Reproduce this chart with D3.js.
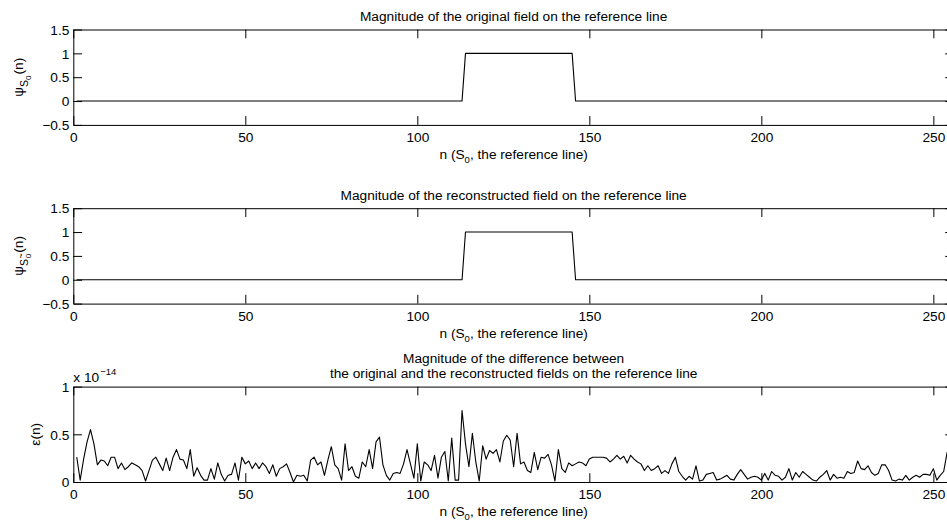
<!DOCTYPE html>
<html>
<head>
<meta charset="utf-8">
<script src="https://cdn.jsdelivr.net/npm/d3@7"></script>
<style>
  body { margin: 0; background: #fff; }
  text { font-family: "Liberation Sans", Arial, Helvetica, sans-serif; fill: #000; }
</style>
</head>
<body>
<svg id="chart" width="947" height="524"></svg>
<script>
// tick values
const xTicks = [0, 50, 100, 150, 200, 250];
const fieldTicks = [-0.5, 0, 0.5, 1, 1.5];
const errorTicks = [0, 0.5, 1];

// sample index n = 1..256
const sampleIndex = d3.range(1, 257);

// |psi_S0(n)| -- original field
const originalField = [
  0,0,0,0,0,0,0,0,0,0,0,0,0,0,0,0,0,0,0,0,0,0,0,0,0,0,0,0,0,0,0,0,
  0,0,0,0,0,0,0,0,0,0,0,0,0,0,0,0,0,0,0,0,0,0,0,0,0,0,0,0,0,0,0,0,
  0,0,0,0,0,0,0,0,0,0,0,0,0,0,0,0,0,0,0,0,0,0,0,0,0,0,0,0,0,0,0,0,
  0,0,0,0,0,0,0,0,0,0,0,0,0,0,0,0,0,1,1,1,1,1,1,1,1,1,1,1,1,1,1,1,
  1,1,1,1,1,1,1,1,1,1,1,1,1,1,1,1,1,0,0,0,0,0,0,0,0,0,0,0,0,0,0,0,
  0,0,0,0,0,0,0,0,0,0,0,0,0,0,0,0,0,0,0,0,0,0,0,0,0,0,0,0,0,0,0,0,
  0,0,0,0,0,0,0,0,0,0,0,0,0,0,0,0,0,0,0,0,0,0,0,0,0,0,0,0,0,0,0,0,
  0,0,0,0,0,0,0,0,0,0,0,0,0,0,0,0,0,0,0,0,0,0,0,0,0,0,0,0,0,0,0,0
];

// |psi~_S0(n)| -- reconstructed field
const reconstructedField = [
  0,0,0,0,0,0,0,0,0,0,0,0,0,0,0,0,0,0,0,0,0,0,0,0,0,0,0,0,0,0,0,0,
  0,0,0,0,0,0,0,0,0,0,0,0,0,0,0,0,0,0,0,0,0,0,0,0,0,0,0,0,0,0,0,0,
  0,0,0,0,0,0,0,0,0,0,0,0,0,0,0,0,0,0,0,0,0,0,0,0,0,0,0,0,0,0,0,0,
  0,0,0,0,0,0,0,0,0,0,0,0,0,0,0,0,0,1,1,1,1,1,1,1,1,1,1,1,1,1,1,1,
  1,1,1,1,1,1,1,1,1,1,1,1,1,1,1,1,1,0,0,0,0,0,0,0,0,0,0,0,0,0,0,0,
  0,0,0,0,0,0,0,0,0,0,0,0,0,0,0,0,0,0,0,0,0,0,0,0,0,0,0,0,0,0,0,0,
  0,0,0,0,0,0,0,0,0,0,0,0,0,0,0,0,0,0,0,0,0,0,0,0,0,0,0,0,0,0,0,0,
  0,0,0,0,0,0,0,0,0,0,0,0,0,0,0,0,0,0,0,0,0,0,0,0,0,0,0,0,0,0,0,0
];

// epsilon(n), in units of 1e-14
const errorValues = [
  0.26,0.02,0.24,0.42,0.55,0.40,0.18,0.23,0.22,0.17,0.26,0.26,0.14,0.20,0.13,0.16,
  0.20,0.18,0.16,0.12,0.01,0.12,0.23,0.26,0.19,0.12,0.25,0.12,0.26,0.34,0.24,0.23,
  0.14,0.34,0.06,0.15,0.07,0.02,0.02,0.14,0.03,0.20,0.08,0.01,0.07,0.08,0.20,0.02,
  0.26,0.19,0.22,0.14,0.20,0.14,0.20,0.16,0.09,0.18,0.06,0.14,0.16,0.19,0.10,0.00,
  0.07,0.06,0.07,0.01,0.23,0.26,0.18,0.21,0.07,0.23,0.37,0.18,0.14,0.02,0.40,0.12,
  0.16,0.06,0.04,0.21,0.16,0.34,0.14,0.42,0.47,0.18,0.07,0.02,0.09,0.10,0.09,0.19,
  0.34,0.19,0.04,0.40,0.01,0.21,0.18,0.12,0.28,0.04,0.26,0.32,0.01,0.46,0.02,0.02,
  0.75,0.40,0.16,0.51,0.21,0.01,0.38,0.24,0.33,0.30,0.34,0.21,0.43,0.49,0.44,0.16,
  0.51,0.19,0.21,0.12,0.10,0.31,0.13,0.26,0.25,0.29,0.18,0.01,0.34,0.14,0.10,0.20,
  0.17,0.19,0.21,0.20,0.17,0.24,0.26,0.26,0.26,0.26,0.25,0.21,0.24,0.28,0.24,0.27,
  0.20,0.28,0.24,0.21,0.19,0.12,0.17,0.12,0.14,0.17,0.09,0.12,0.09,0.19,0.26,0.11,
  0.06,0.02,0.06,0.03,0.17,0.01,0.02,0.08,0.09,0.10,0.02,0.03,0.05,0.07,0.03,0.02,
  0.08,0.13,0.08,0.03,0.05,0.06,0.05,0.02,0.09,0.02,0.11,0.07,0.06,0.02,0.05,0.14,
  0.02,0.10,0.05,0.11,0.08,0.05,0.02,0.01,0.05,0.08,0.12,0.02,0.08,0.04,0.05,0.04,
  0.11,0.09,0.10,0.22,0.14,0.13,0.17,0.10,0.07,0.09,0.18,0.18,0.12,0.02,0.01,0.03,
  0.02,0.07,0.02,0.05,0.07,0.05,0.08,0.08,0.07,0.14,0.02,0.07,0.11,0.31,0.36,0.30
];

const fontSize = 13.7;
const tickLen = 8.8;
const plotLeft = 73.3;
const plotRight = 954;   // the figure is cut off on the right, like the source
const panelHeight = 95.4;

const svg = d3.select("#chart");

const x = d3.scaleLinear().domain([0, 256]).range([plotLeft, plotRight]);

const fmt = d => d < 0 ? "\u2212" + Math.abs(d) : String(d);

function drawPanel(opts) {
  const top = opts.top;
  const bottom = top + panelHeight;
  const y = d3.scaleLinear().domain(opts.yDomain).range([bottom, top]);

  const g = svg.append("g");

  // data line
  const line = d3.line()
    .x((d, i) => x(sampleIndex[i]))
    .y(d => y(d));
  g.append("path")
    .datum(opts.values)
    .attr("fill", "none")
    .attr("stroke", "#000")
    .attr("stroke-width", 1.1)
    .attr("stroke-linejoin", "round")
    .attr("d", line);

  // box with inward ticks on all four sides
  const axes = [
    { axis: d3.axisBottom(x).tickValues(xTicks).tickFormat(fmt), t: `translate(0,${bottom})` },
    { axis: d3.axisTop(x).tickValues(xTicks).tickFormat(""), t: `translate(0,${top})` },
    { axis: d3.axisLeft(y).tickValues(opts.yTicks).tickFormat(fmt), t: `translate(${plotLeft},0)` },
    { axis: d3.axisRight(y).tickValues(opts.yTicks).tickFormat(""), t: `translate(${plotRight},0)` }
  ];
  axes.forEach((a, k) => {
    const ag = g.append("g")
      .attr("transform", a.t)
      .call(a.axis.tickSizeInner(-tickLen).tickSizeOuter(0))
      .attr("font-family", null)
      .attr("font-size", null);
    ag.selectAll("path, line").attr("stroke", "#000").attr("stroke-width", 1);
    ag.selectAll("text").style("font-size", fontSize + "px");
    if (k === 0) {
      ag.selectAll("text").attr("y", 17.4).attr("dy", null);
    }
    if (k === 2) {
      ag.selectAll("text").attr("x", -4).attr("dy", "0.35em");
    }
  });

  // x label: n (S_0, the reference line)
  const xl = g.append("text")
    .attr("x", (plotLeft + plotRight) / 2)
    .attr("y", bottom + 34.3)
    .attr("text-anchor", "middle")
    .style("font-size", fontSize + "px");
  xl.append("tspan").text("n (S");
  xl.append("tspan").attr("dy", 4).style("font-size", "9.5px").text("0");
  xl.append("tspan").attr("dy", -4).text(", the reference line)");

  // title (one or two lines)
  opts.title.forEach((t, i, arr) => {
    g.append("text")
      .attr("x", (plotLeft + plotRight) / 2)
      .attr("y", top - 8.6 - (arr.length - 1 - i) * 14.6)
      .attr("text-anchor", "middle")
      .style("font-size", fontSize + "px")
      .text(t);
  });

  return { g, y, top, bottom };
}

const p1 = drawPanel({
  top: 29.5,
  yDomain: [-0.5, 1.5],
  yTicks: fieldTicks,
  values: originalField,
  title: ["Magnitude of the original field on the reference line"]
});

const p2 = drawPanel({
  top: 208.2,
  yDomain: [-0.5, 1.5],
  yTicks: fieldTicks,
  values: reconstructedField,
  title: ["Magnitude of the reconstructed field on the reference line"]
});

const p3 = drawPanel({
  top: 386.6,
  yDomain: [0, 1],
  yTicks: errorTicks,
  values: errorValues,
  title: ["Magnitude of the difference between",
          "the original and the reconstructed fields on the reference line"]
});

// y labels: psi with subscript S_0 (S carries a small tilde on the second panel)
function psiLabel(panel, tilde) {
  const mid = (panel.top + panel.bottom) / 2;
  const t = svg.append("text")
    .attr("transform", `translate(23,${mid}) rotate(-90)`)
    .attr("text-anchor", "middle")
    .style("font-size", fontSize + "px");
  t.append("tspan").text("\u03c8");
  t.append("tspan").attr("dy", 5).style("font-size", "10.5px").text("S");
  if (tilde) {
    t.append("tspan").attr("dy", -4).attr("dx", 0.5).style("font-size", "9px").text("~");
    t.append("tspan").attr("dy", 7).attr("dx", -5).style("font-size", "8px").text("0");
  } else {
    t.append("tspan").attr("dy", 3).style("font-size", "8px").text("0");
  }
  t.append("tspan").attr("dy", -8).attr("dx", 1).text("(n)");
}
psiLabel(p1, false);
psiLabel(p2, true);

svg.append("text")
  .attr("transform", `translate(40,${(p3.top + p3.bottom) / 2}) rotate(-90)`)
  .attr("text-anchor", "middle")
  .style("font-size", fontSize + "px")
  .text("\u03b5(n)");

// exponent label above the error panel
const ex = svg.append("text")
  .attr("x", plotLeft)
  .attr("y", p3.top - 4.8)
  .style("font-size", fontSize + "px");
ex.append("tspan").text("x 10");
ex.append("tspan").attr("dy", -7).attr("dx", 1).style("font-size", "9.5px").text("\u221214");
</script>
</body>
</html>
